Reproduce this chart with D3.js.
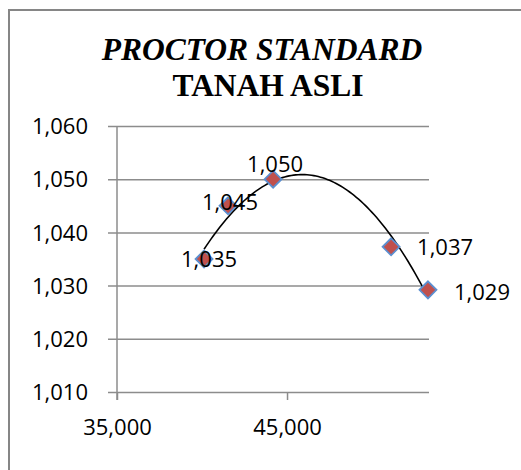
<!DOCTYPE html>
<html lang="id">
<head>
<meta charset="UTF-8">
<title>Proctor Standard Tanah Asli</title>
<style>
  html, body { margin: 0; padding: 0; background: #fff; }
  svg { display: block; }
  .tick-label { font-family: "Open Sans", sans-serif; font-size: 22px; fill: #000; }
  .data-label { font-family: "Open Sans", sans-serif; font-size: 22px; fill: #000; }
  .title { font-family: "Liberation Serif", "Times New Roman", serif; font-weight: bold; fill: #000; }
</style>
</head>
<body>
<div id="chart"></div>
<script src="https://d3js.org/d3.v7.min.js"></script>
<script>
// kadar air (%) vs berat isi kering (gr/cm3)
var waterContent = [40.12, 41.53, 44.18, 51.12, 53.29];
var dryDensity = [1.035, 1.045, 1.050, 1.0373, 1.0292];
var yTicks = [1.010, 1.020, 1.030, 1.040, 1.050, 1.060];
var xTicks = [35, 45];

// small label nudges, like the manually moved labels in the original
var labelDx = [5, 2, 2, 26, 26];
var labelDy = [0, -4, -15, 1, 2];

var width = 521, height = 470;
var plotLeft = 117, plotRight = 429, plotTop = 126, plotBottom = 392;

var idLocale = d3.formatLocale({ decimal: ",", thousands: ".", grouping: [3], currency: ["Rp", ""] });
var fmt = idLocale.format(".3f");

var svg = d3.select("#chart").append("svg")
  .attr("width", width)
  .attr("height", height);

// chart border (only the top-left part is inside the picture)
svg.append("rect")
  .attr("x", 9).attr("y", 10)
  .attr("width", 600).attr("height", 600)
  .attr("fill", "none")
  .attr("stroke", "#868686")
  .attr("stroke-width", 2);

// title
svg.append("text").attr("class", "title")
  .attr("x", 262).attr("y", 60)
  .attr("text-anchor", "middle")
  .style("font-style", "italic")
  .style("font-size", "31.5px")
  .text("PROCTOR STANDARD");
svg.append("text").attr("class", "title")
  .attr("x", 268).attr("y", 96)
  .attr("text-anchor", "middle")
  .style("font-size", "31.5px")
  .text("TANAH ASLI");

var x = d3.scaleLinear().domain([35, 53.35]).range([plotLeft, plotRight]);
var y = d3.scaleLinear().domain([1.010, 1.060]).range([plotBottom, plotTop]);

// y gridlines + ticks
var yAxis = d3.axisLeft(y).tickValues(yTicks).tickSize(-(plotRight - plotLeft)).tickSizeOuter(0).tickFormat(fmt);
var gy = svg.append("g").attr("transform", "translate(" + plotLeft + ",0)").call(yAxis);
gy.select(".domain").remove();
gy.attr("font-family", null).attr("font-size", null);
gy.selectAll(".tick line")
  .attr("x1", -9)
  .attr("stroke", "#8c8c8c")
  .attr("stroke-width", 1.5);
gy.selectAll(".tick text")
  .attr("class", "tick-label")
  .attr("x", -29)
  .attr("dy", "0.35em");

// vertical axis line
svg.append("line")
  .attr("x1", plotLeft).attr("x2", plotLeft)
  .attr("y1", plotTop).attr("y2", plotBottom + 8)
  .attr("stroke", "#8c8c8c").attr("stroke-width", 1.5);

// x axis
var xAxis = d3.axisBottom(x).tickValues(xTicks).tickSize(8).tickSizeOuter(0).tickFormat(fmt);
var gx = svg.append("g").attr("transform", "translate(0," + plotBottom + ")").call(xAxis);
gx.select(".domain").remove();
gx.attr("font-family", null).attr("font-size", null);
gx.selectAll(".tick line").attr("stroke", "#8c8c8c").attr("stroke-width", 1.5);
gx.selectAll(".tick text")
  .attr("class", "tick-label")
  .attr("y", 43)
  .attr("dy", null);

// quadratic trendline (least squares)
function polyFit2(xs, ys) {
  var n = xs.length, s = [0, 0, 0, 0, 0], t = [0, 0, 0];
  for (var i = 0; i < n; i++) {
    var p = 1;
    for (var k = 0; k < 5; k++) { s[k] += p; if (k < 3) t[k] += p * ys[i]; p *= xs[i]; }
  }
  var A = [[s[0], s[1], s[2], t[0]], [s[1], s[2], s[3], t[1]], [s[2], s[3], s[4], t[2]]];
  for (var c = 0; c < 3; c++) {
    for (var r = c + 1; r < 3; r++) {
      var f = A[r][c] / A[c][c];
      for (var j = c; j < 4; j++) A[r][j] -= f * A[c][j];
    }
  }
  var coef = [0, 0, 0];
  for (var r2 = 2; r2 >= 0; r2--) {
    var sum = A[r2][3];
    for (var j2 = r2 + 1; j2 < 3; j2++) sum -= A[r2][j2] * coef[j2];
    coef[r2] = sum / A[r2][r2];
  }
  return coef;
}
var xm = d3.mean(waterContent);
var coef = polyFit2(waterContent.map(function(v) { return v - xm; }), dryDensity);
var xMin = d3.min(waterContent), xMax = d3.max(waterContent);
var trend = d3.range(0, 101).map(function(i) {
  var xv = xMin + (xMax - xMin) * i / 100, u = xv - xm;
  return [xv, coef[0] + coef[1] * u + coef[2] * u * u];
});
svg.append("path")
  .datum(trend)
  .attr("fill", "none")
  .attr("stroke", "#000")
  .attr("stroke-width", 1.6)
  .attr("d", d3.line().x(function(d) { return x(d[0]); }).y(function(d) { return y(d[1]); }));

var points = waterContent.map(function(v, i) { return { x: v, y: dryDensity[i], i: i }; });

// diamond markers
var mr = 8.5;
svg.selectAll(".marker")
  .data(points)
  .enter().append("path")
  .attr("class", "marker")
  .attr("d", function(d) {
    var cx = x(d.x), cy = y(d.y);
    return "M" + cx + "," + (cy - mr) + "L" + (cx + mr) + "," + cy + "L" + cx + "," + (cy + mr) + "L" + (cx - mr) + "," + cy + "Z";
  })
  .attr("fill", "#c0504d")
  .attr("stroke", "#5b8fd0")
  .attr("stroke-width", 1.8);

// data labels
svg.selectAll(".data-label")
  .data(points)
  .enter().append("text")
  .attr("class", "data-label")
  .attr("x", function(d) { return x(d.x) + labelDx[d.i]; })
  .attr("y", function(d) { return y(d.y) + labelDy[d.i]; })
  .attr("dy", "0.35em")
  .attr("text-anchor", function(d) { return labelDx[d.i] > 10 ? "start" : "middle"; })
  .text(function(d) { return fmt(d.y); });
</script>
</body>
</html>
